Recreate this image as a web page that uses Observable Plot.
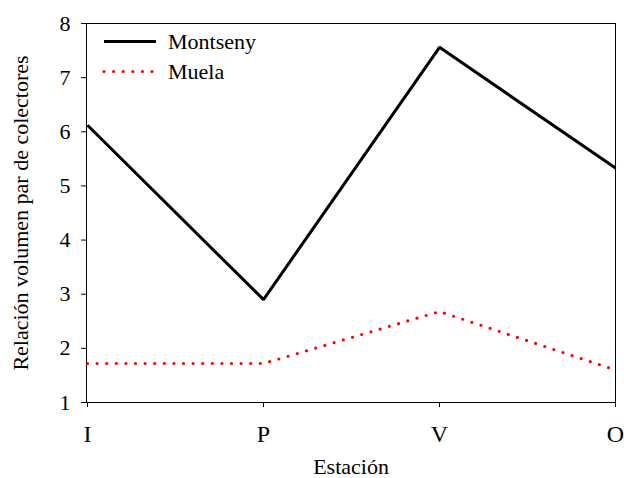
<!DOCTYPE html>
<html>
<head>
<meta charset="utf-8">
<script src="https://cdn.jsdelivr.net/npm/d3@7"></script>
<script src="https://cdn.jsdelivr.net/npm/@observablehq/plot@0.6"></script>
<style>
  html, body { margin: 0; padding: 0; background: #fff; }
  #chart { position: relative; width: 624px; height: 478px; }
</style>
</head>
<body>
<div id="chart"></div>
<script>
// Stations (seasons) along the x axis
const estaciones = ["I", "P", "V", "O"];
// Volume ratio per pair of collectors
const montseny = [6.12, 2.9, 7.56, 5.33];
const muela = [1.72, 1.72, 2.68, 1.6];
const yTicks = [1, 2, 3, 4, 5, 6, 7, 8];

const serie = (nombre, valores) =>
  estaciones.map((e, i) => ({estacion: e, valor: valores[i], serie: nombre}));

const dMontseny = serie("Montseny", montseny);
const dMuela = serie("Muela", muela);

const font = "Liberation Serif, Times New Roman, serif";

const chart = Plot.plot({
  width: 624,
  height: 478,
  marginLeft: 86,
  marginRight: 9,
  marginTop: 23,
  marginBottom: 76,
  style: {fontFamily: font, fontSize: "22px", color: "black", background: "white", overflow: "visible"},
  x: {type: "point", domain: estaciones, padding: 0},
  y: {domain: [1, 8]},
  marks: [
    Plot.frame({stroke: "black", strokeWidth: 1}),
    Plot.axisY({
      ticks: yTicks, tickSize: 5, tickPadding: 11, tickFormat: d => String(d),
      label: "Relación volumen par de colectores", labelAnchor: "center",
      labelOffset: 74, labelArrow: "none"
    }),
    Plot.axisX({
      tickSize: 5, tickPadding: 17, fontSize: 24,
      label: null
    }),
    Plot.axisX({
      ticks: [], tickSize: 0, label: "Estación", labelAnchor: "center",
      labelOffset: 71, labelArrow: "none"
    }),
    Plot.line(dMuela, {
      x: "estacion", y: "valor", stroke: "#ff0000", strokeWidth: 3.2,
      strokeDasharray: "0 9.6", strokeLinecap: "round"
    }),
    Plot.line(dMontseny, {
      x: "estacion", y: "valor", stroke: "black", strokeWidth: 3,
      strokeLinejoin: "miter", strokeLinecap: "butt"
    })
  ]
});

// Legend in the upper-left corner of the frame
const svg = d3.select(chart);
const leg = svg.append("g")
  .attr("font-family", font).attr("font-size", 22)
  .attr("fill", "black").attr("text-anchor", "start");
const items = [
  {nombre: "Montseny", stroke: "black", dash: null, cap: "butt", width: 3},
  {nombre: "Muela", stroke: "#ff0000", dash: "0 9.6", cap: "round", width: 3.2}
];
items.forEach((it, i) => {
  const y = 41.5 + i * 30;
  leg.append("line")
    .attr("x1", 104).attr("x2", 156).attr("y1", y).attr("y2", y)
    .attr("stroke", it.stroke).attr("stroke-width", it.width)
    .attr("stroke-linecap", it.cap)
    .attr("stroke-dasharray", it.dash);
  leg.append("text").attr("x", 168).attr("y", y + 7)
    .attr("text-anchor", "start").text(it.nombre);
});

document.getElementById("chart").appendChild(chart);
</script>
</body>
</html>
